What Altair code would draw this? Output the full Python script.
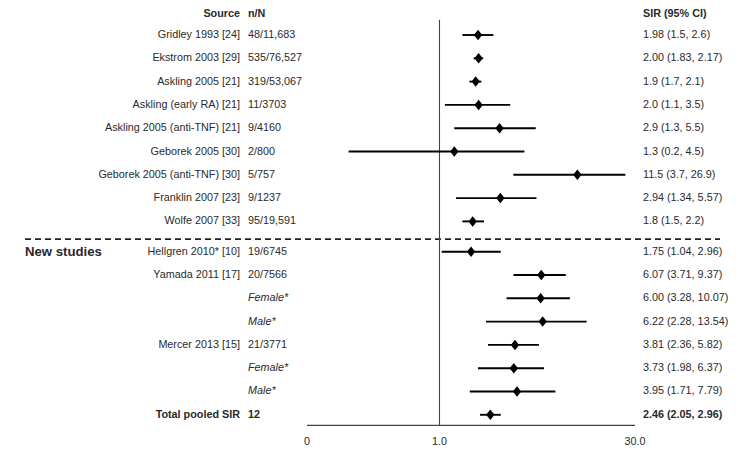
import altair as alt
import pandas as pd

# ---- data ----
sources = ["Gridley 1993 [24]", "Ekstrom 2003 [29]", "Askling 2005 [21]",
           "Askling (early RA) [21]", "Askling 2005 (anti-TNF) [21]",
           "Geborek 2005 [30]", "Geborek 2005 (anti-TNF) [30]",
           "Franklin 2007 [23]", "Wolfe 2007 [33]",
           "Hellgren 2010* [10]", "Yamada 2011 [17]", "", "",
           "Mercer 2013 [15]", "", "", "Total pooled SIR"]
n_over_N = ["48/11,683", "535/76,527", "319/53,067", "11/3703", "9/4160",
            "2/800", "5/757", "9/1237", "95/19,591",
            "19/6745", "20/7566", "Female*", "Male*",
            "21/3771", "Female*", "Male*", "12"]
sir = [1.98, 2.00, 1.9, 2.0, 2.9, 1.3, 11.5, 2.94, 1.8,
       1.75, 6.07, 6.00, 6.22, 3.81, 3.73, 3.95, 2.46]
ci_lo = [1.5, 1.83, 1.7, 1.1, 1.3, 0.2, 3.7, 1.34, 1.5,
         1.04, 3.71, 3.28, 2.28, 2.36, 1.98, 1.71, 2.05]
ci_hi = [2.6, 2.17, 2.1, 3.5, 5.5, 4.5, 26.9, 5.57, 2.2,
         2.96, 9.37, 10.07, 13.54, 5.82, 6.37, 7.79, 2.96]
sir_text = ["1.98 (1.5, 2.6)", "2.00 (1.83, 2.17)", "1.9 (1.7, 2.1)",
            "2.0 (1.1, 3.5)", "2.9 (1.3, 5.5)", "1.3 (0.2, 4.5)",
            "11.5 (3.7, 26.9)", "2.94 (1.34, 5.57)", "1.8 (1.5, 2.2)",
            "1.75 (1.04, 2.96)", "6.07 (3.71, 9.37)", "6.00 (3.28, 10.07)",
            "6.22 (2.28, 13.54)", "3.81 (2.36, 5.82)", "3.73 (1.98, 6.37)",
            "3.95 (1.71, 7.79)", "2.46 (2.05, 2.96)"]
rows = [0, 1, 2, 3, 4, 5, 6, 7, 8,
        9.3, 10.3, 11.3, 12.3, 13.3, 14.3, 15.3, 16.3]
style = ["n"] * 11 + ["i", "i", "n", "i", "i", "b"]

tick_values = [0.0957, 1.0, 31.9]
tick_labels = ["0", "1.0", "30.0"]

headers = ["Source", "n/N", "SIR (95% CI)"]

# ---- frames ----
df = pd.DataFrame({"source": sources, "nN": n_over_N, "sir": sir,
                   "lo": ci_lo, "hi": ci_hi, "label": sir_text,
                   "row": rows, "style": style})

FONT = "Liberation Sans"
TXT = "#2a2a2a"
FS = 10.8

xs = alt.Scale(type="log", domain=[0.1, 30], range=[301.5, 623.5])
ys = alt.Scale(domain=[-1, 17.5], range=[3.7, 434.75], zero=False, nice=False)

X = lambda f: alt.X(f, type="quantitative", scale=xs, axis=None)
Y = lambda f: alt.Y(f, type="quantitative", scale=ys, axis=None)

base = alt.Chart(df)

ci = base.mark_rule(color="black", strokeWidth=1.9).encode(
    x=X("lo"), x2="hi", y=Y("row"))

diamond = "M0,-1L0.8,0L0,1L-0.8,0Z"
pts = base.mark_point(shape=diamond, filled=True, size=110, color="black",
                      opacity=1).encode(x=X("sir"), y=Y("row"))

def text_layer(field, xpix, align, style_key, weight="normal", italic=False):
    return base.transform_filter(alt.datum.style == style_key).mark_text(
        font=FONT, fontSize=FS, color=TXT, align=align, baseline="middle",
        fontWeight=weight, fontStyle="italic" if italic else "normal"
    ).encode(x=alt.value(xpix), y=Y("row"), text=alt.Text(field, type="nominal"))

texts = []
for key, w, it in [("n", "normal", False), ("i", "normal", True), ("b", "bold", False)]:
    texts.append(text_layer("source", 232, "right", key, w, False))
    texts.append(text_layer("nN", 240, "left", key, w, it))
    texts.append(text_layer("label", 635, "left", key, w, False))

hdr_df = pd.DataFrame({"h": headers, "row": [-0.9] * 3})
hdr_src = alt.Chart(hdr_df.iloc[[0]]).mark_text(
    font=FONT, fontSize=FS, fontWeight="bold", color=TXT, align="right",
    baseline="middle").encode(x=alt.value(232), y=Y("row"), text="h:N")
hdr_n = alt.Chart(hdr_df.iloc[[1]]).mark_text(
    font=FONT, fontSize=FS, fontWeight="bold", color=TXT, align="left",
    baseline="middle").encode(x=alt.value(240), y=Y("row"), text="h:N")
hdr_sir = alt.Chart(hdr_df.iloc[[2]]).mark_text(
    font=FONT, fontSize=FS, fontWeight="bold", color=TXT, align="left",
    baseline="middle").encode(x=alt.value(635), y=Y("row"), text="h:N")

new_df = pd.DataFrame({"t": ["New studies"], "row": [9.3]})
new_lbl = alt.Chart(new_df).mark_text(
    font=FONT, fontSize=13.2, fontWeight="bold", color=TXT, align="left",
    baseline="middle").encode(x=alt.value(17), y=Y("row"), text="t:N")

vline_df = pd.DataFrame({"x": [1.0], "y": [-0.65], "y2": [16.75]})
vline = alt.Chart(vline_df).mark_rule(color="#444", strokeWidth=1.1).encode(
    x=X("x"), y=Y("y"), y2="y2")

axis_df = pd.DataFrame({"x": [tick_values[0]], "x2": [tick_values[-1]], "y": [16.75]})
axline = alt.Chart(axis_df).mark_rule(color="#444", strokeWidth=1.3).encode(
    x=X("x"), x2="x2", y=Y("y"))

tick_df = pd.DataFrame({"v": tick_values, "lab": tick_labels, "row": [17.45] * 3})
ticks = alt.Chart(tick_df).mark_text(
    font=FONT, fontSize=FS, color=TXT, align="center", baseline="middle"
).encode(x=X("v"), y=Y("row"), text="lab:N")

dash_df = pd.DataFrame({"row": [8.76]})
dash = alt.Chart(dash_df).mark_rule(color="#222", strokeWidth=1.6,
                                    strokeDash=[6, 4]).encode(
    x=alt.value(17), x2=alt.value(712), y=Y("row"))

chart = alt.layer(dash, vline, axline, ci, pts, *texts, hdr_src, hdr_n, hdr_sir,
                  new_lbl, ticks).properties(
    width=727, height=444, autosize=alt.AutoSizeParams(type="none"),
    padding=0, background="white"
).configure_view(stroke=None)

chart.save("out.html", embed_options={"renderer": "svg", "actions": False})
